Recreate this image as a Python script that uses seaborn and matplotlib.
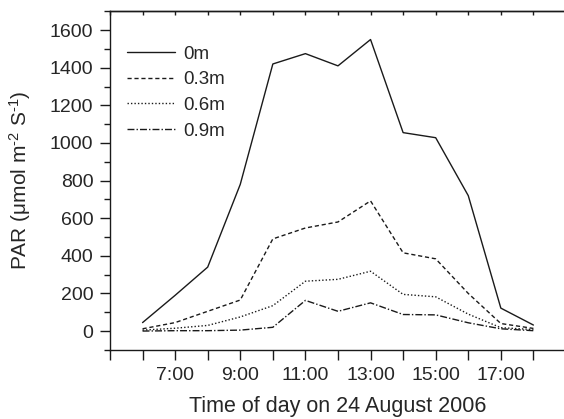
import numpy as np
import pandas as pd
import matplotlib
matplotlib.use("Agg")
import matplotlib.pyplot as plt
import seaborn as sns
from matplotlib.ticker import MultipleLocator, FixedLocator

# hours of the day and PAR readings at each depth
hours = [6, 7, 8, 9, 10, 11, 12, 13, 14, 15, 16, 17, 18]
par0 = [45, 190, 340, 780, 1420, 1475, 1410, 1550, 1055, 1028, 720, 122, 32]
par03 = [12, 45, 105, 165, 490, 548, 580, 692, 416, 384, 200, 40, 14]
par06 = [5, 15, 30, 75, 135, 265, 275, 318, 195, 182, 90, 18, 8]
par09 = [0, 2, 2, 5, 20, 163, 105, 150, 88, 86, 44, 12, 2]
depths = ["0m", "0.3m", "0.6m", "0.9m"]
tickLabels = ["7:00", "9:00", "11:00", "13:00", "15:00", "17:00"]

sns.set_style("ticks")
plt.rcParams['font.family'] = ['Liberation Sans', 'DejaVu Sans']
plt.rcParams['mathtext.fontset'] = 'custom'
plt.rcParams['mathtext.rm'] = 'Liberation Sans'
plt.rcParams['mathtext.it'] = 'Liberation Sans'

fig = plt.figure(figsize=(5.64, 4.19), dpi=100)
ax = fig.add_axes([0.195, 0.165, 0.8085, 0.808])

black = "#1a1a1a"
styles = ["-", (0, (3, 2)), (0, (1, 1.5)), (0, (5, 1.5, 1, 1.5))]
for name, vals, ls in zip(depths, [par0, par03, par06, par09], styles):
    df = pd.DataFrame({"hour": hours, "par": vals})
    sns.lineplot(data=df, x="hour", y="par", ax=ax, color=black,
                 linewidth=1.0, linestyle=ls, label=name)

ax.set_xlim(5, 19)
ax.set_ylim(-100, 1700)
ax.xaxis.set_major_locator(FixedLocator([7, 9, 11, 13, 15, 17]))
ax.set_xticklabels(tickLabels)
ax.xaxis.set_minor_locator(FixedLocator([5, 6, 8, 10, 12, 14, 16, 18]))
ax.yaxis.set_major_locator(MultipleLocator(200))
ax.yaxis.set_minor_locator(MultipleLocator(100))
ax.tick_params(axis="both", which="major", labelsize=14, length=7, width=1,
               color=black, pad=5)
ax.tick_params(axis="y", which="minor", length=4, width=1, color=black)
ax.tick_params(axis="x", which="minor", length=7, width=1, color=black)
ax.spines["right"].set_visible(False)
for s in ax.spines.values():
    s.set_linewidth(1.0)
    s.set_color(black)

# top axis ticks pointing inward at every hour
top = ax.secondary_xaxis("top")
top.set_xticks(list(range(5, 20)))
top.tick_params(direction="in", length=3, width=1, color=black, labeltop=False)
top.spines["top"].set_linewidth(1.0)
top.spines["top"].set_color(black)

ax.set_xlabel("Time of day on 24 August 2006", fontsize=15.5, labelpad=9)
ax.set_ylabel(r"PAR (μmol m$^{\text{-2}}$ S$^{\text{-1}}$)", fontsize=15, labelpad=12)

leg = ax.legend(loc="upper left", frameon=False, fontsize=13.5, handlelength=2.55,
                handletextpad=0.45, labelspacing=0.45, bbox_to_anchor=(0.0, 0.948))

fig.savefig("out.png", dpi=100)
